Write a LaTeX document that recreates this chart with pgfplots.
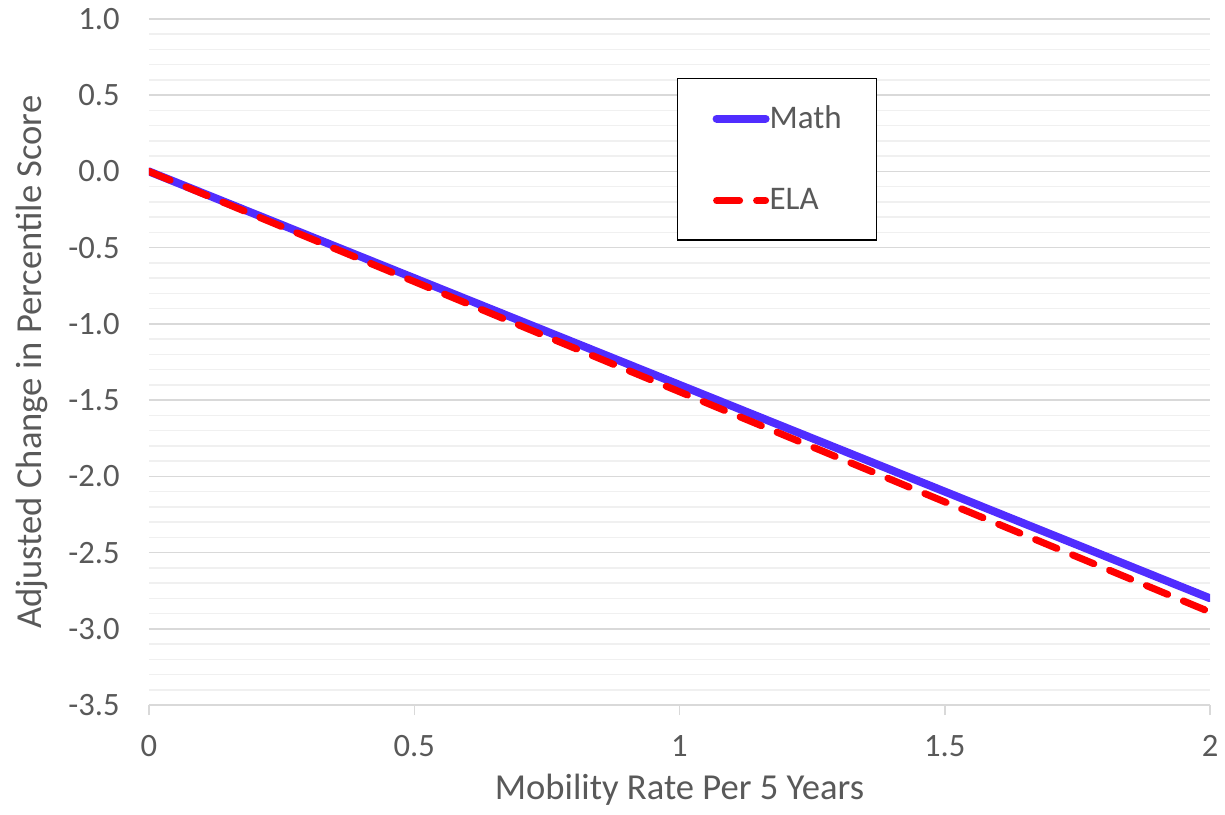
\documentclass[border=0pt]{standalone}
\usepackage{pgfplots}
\pgfplotsset{compat=1.18}
\usepackage{fontspec}
\setmainfont{Carlito}
\definecolor{tc}{HTML}{595959}
\definecolor{mgrid}{HTML}{D9D9D9}
\definecolor{ngrid}{HTML}{F0F0F0}
\definecolor{mathc}{RGB}{80,45,255}
\definecolor{elac}{RGB}{255,0,0}
\begin{document}
\begin{tikzpicture}
\begin{axis}[
  scale only axis,
  width=530.5bp, height=343bp,
  xmin=0, xmax=2, ymin=-3.5, ymax=1.0,
  xtick={0,0.5,1,1.5,2},
  xticklabels={0,0.5,1,1.5,2},
  ytick={-3.5,-3,...,1.0},
  minor y tick num=4,
  ymajorgrids, yminorgrids,
  major grid style={draw=mgrid, line width=0.75bp},
  minor grid style={draw=ngrid, line width=0.75bp},
  axis x line*=bottom, axis y line*=left,
  x axis line style={draw=mgrid, line width=0.75bp, -},
  y axis line style={draw=none},
  y tick style={draw=none},
  x tick style={draw=mgrid, line width=0.75bp},
  xtick align=outside, major tick length=5bp,
  /pgf/number format/assume math mode=true,
  yticklabel style={/pgf/number format/.cd, fixed, fixed zerofill, precision=1, /tikz/.cd, inner sep=0pt, xshift=-14.5bp},
  xticklabel style={inner sep=0pt, yshift=-10bp},
  ticklabel style={font=\fontsize{16.3bp}{19bp}\selectfont, text=tc},
  xlabel={Mobility Rate Per 5 Years},
  ylabel={Adjusted Change in Percentile Score},
  label style={font=\fontsize{18.3bp}{21bp}\selectfont, text=tc},
  xlabel style={yshift=-8.5bp, inner sep=0pt},
  ylabel style={yshift=7bp},
  legend style={at={(axis cs:0.995,0.613)}, anchor=north west, draw=black, line width=0.75bp, fill=white,
    font=\fontsize{16.5bp}{19bp}\selectfont, text=tc, inner xsep=17.5bp, inner ysep=13.5bp, row sep=28.5bp,
    nodes={inner sep=0pt, anchor=west}, /tikz/every even column/.style={column sep=0bp}},
  legend image code/.code={\draw[#1] (0bp,0bp) -- (24.5bp,0bp);},
  legend cell align=left,
]
\addplot[color=mathc, line width=4bp, line cap=round] coordinates {(0,0) (2,-2.80)};
\addlegendentry{Math}
\addplot[color=elac, line width=3.5bp, line cap=round, dash pattern=on 11.5bp off 8.5bp] coordinates {(0,0) (2,-2.89)};
\addlegendentry{ELA}
\end{axis}
\pgfresetboundingbox
\path[use as bounding box] ([xshift=-74.5bp,yshift=-55bp]current axis.south west) rectangle ([xshift=7.5bp,yshift=9.5bp]current axis.north east);
\end{tikzpicture}
\end{document}
